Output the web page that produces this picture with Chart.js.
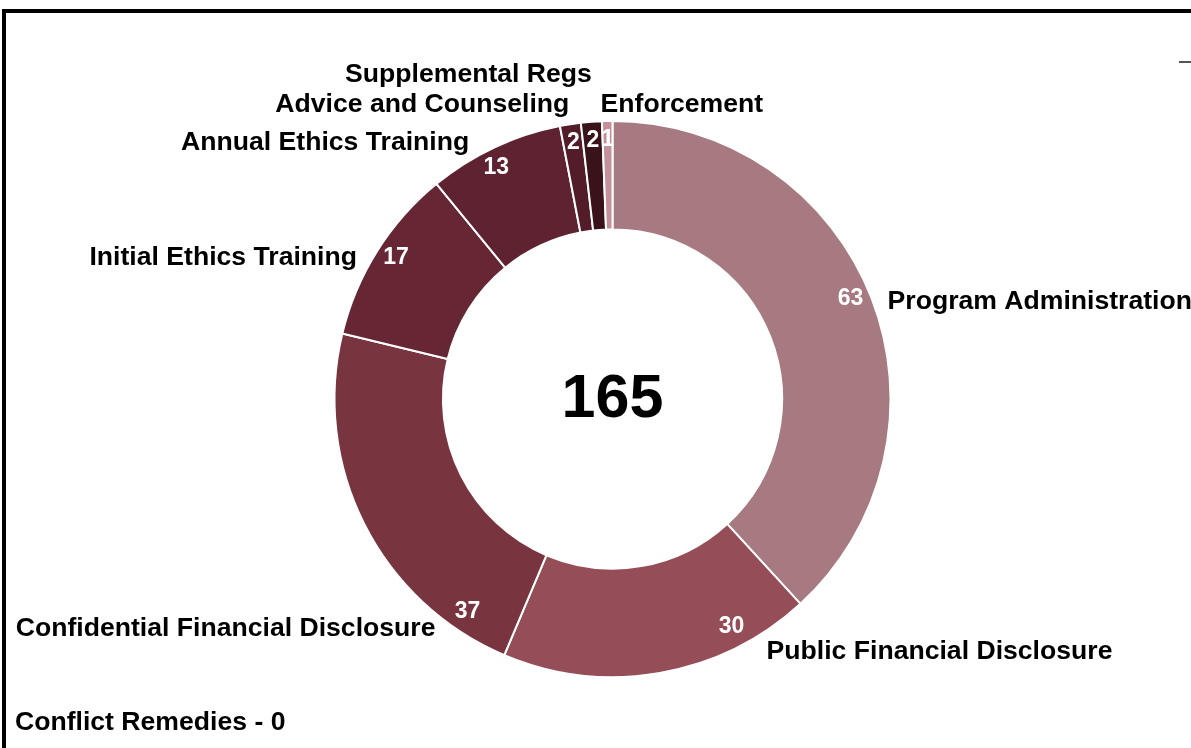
<!DOCTYPE html>
<html>
<head>
<meta charset="utf-8">
<script src="https://cdn.jsdelivr.net/npm/chart.js@4/dist/chart.umd.min.js"></script>
<style>
  html, body { margin: 0; padding: 0; background: #fff; overflow: hidden; }
  #wrap { position: relative; width: 1191px; height: 748px; }
  #frame { position: absolute; left: 2px; top: 9px; width: 1300px; height: 900px;
           border-left: 4px solid #000; border-top: 4px solid #000; }
  #dash { position: absolute; left: 1179px; top: 61px; width: 12px; height: 2px; background: #555; }
  #note { position: absolute; left: 15px; top: 706px; font: bold 26.6px "Liberation Sans", Arial, sans-serif; color: #000; }
  canvas { position: absolute; left: 0; top: 0; }
</style>
</head>
<body>
<div id="wrap">
  <div id="frame"></div>
  <div id="dash"></div>
  <canvas id="donut" width="1191" height="748"></canvas>
  <div id="note">Conflict Remedies - 0</div>
</div>
<script>
// --- Data ---
const categories = [
  "Program Administration",
  "Public Financial Disclosure",
  "Confidential Financial Disclosure",
  "Initial Ethics Training",
  "Annual Ethics Training",
  "Advice and Counseling",
  "Supplemental Regs",
  "Enforcement"
];
const values = [63, 30, 37, 17, 13, 2, 2, 1];
const colors = ["#a67a80", "#954e58", "#78343f", "#662633", "#5e2230", "#521c28", "#3a1219", "#c4909a"];

// where the value label sits inside its slice (0..1 of the slice sweep)
const valueFrac = [0.49, 0.23, 0.14, 0.52, 0.44, 0.5, 0.5, 0.5];
// category label offset from the value label: dx, dy, alignment
const labelOffsets = [
  [37, 3, "left"], [35, 25, "left"], [-32, 17, "right"], [-39, 0, "right"],
  [-27, -25, "right"], [-4, -38, "right"], [-1, -66, "right"], [-7, -35, "left"]
];

const FONT = '"Liberation Sans", Arial, sans-serif';

// --- Labels plugin ---
const donutLabels = {
  id: "donutLabels",
  afterDatasetsDraw(chart) {
    const ctx = chart.ctx;
    const arcs = chart.getDatasetMeta(0).data;
    ctx.save();
    ctx.textBaseline = "middle";
    arcs.forEach((arc, i) => {
      const { x, y, startAngle, endAngle, outerRadius } = arc.getProps(["x", "y", "startAngle", "endAngle", "outerRadius"], true);
      const a = startAngle + (endAngle - startAngle) * valueFrac[i];
      const r = outerRadius - 20;
      const vx = x + r * Math.cos(a);
      const vy = y + r * Math.sin(a) - 1;
      ctx.fillStyle = "#fff";
      ctx.font = "bold 23px " + FONT;
      ctx.textAlign = "center";
      ctx.fillText(values[i], vx, vy);

      const [dx, dy, align] = labelOffsets[i];
      ctx.fillStyle = "#000";
      ctx.font = "bold 26.6px " + FONT;
      ctx.textAlign = align;
      ctx.fillText(categories[i], vx + dx, vy + dy);
    });
    // total in the middle
    const c = arcs[0];
    const total = values.reduce((s, v) => s + v, 0);
    ctx.fillStyle = "#000";
    ctx.font = "bold 61px " + FONT;
    ctx.textAlign = "center";
    ctx.fillText(total, c.x, c.y + 1);
    ctx.restore();
  }
};

new Chart(document.getElementById("donut"), {
  type: "doughnut",
  data: {
    labels: categories,
    datasets: [{
      data: values,
      backgroundColor: colors,
      borderColor: "#fff",
      borderWidth: 2
    }]
  },
  options: {
    responsive: false,
    animation: false,
    cutout: "61%",
    layout: { padding: { top: 120, bottom: 70, left: 34, right: 0 } },
    plugins: { legend: { display: false }, tooltip: { enabled: false } }
  },
  plugins: [donutLabels]
});
</script>
</body>
</html>
